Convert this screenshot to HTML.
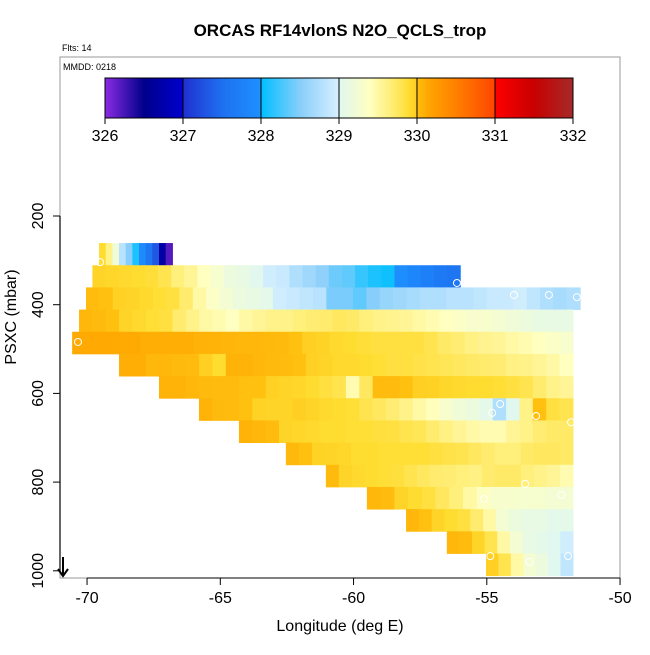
<!DOCTYPE html>
<html><head><meta charset="utf-8"><style>
html,body{margin:0;padding:0;background:#fff;}
svg text{font-family:"Liberation Sans",sans-serif;}
</style></head><body>
<svg id="chart" width="650" height="650" viewBox="0 0 650 650" xmlns="http://www.w3.org/2000/svg">
<rect x="0" y="0" width="650" height="650" fill="#fff"/>
<text x="340" y="36" text-anchor="middle" font-size="17" font-weight="bold">ORCAS RF14vlonS N2O_QCLS_trop</text>
<text x="62" y="51" font-size="9">Flts: 14</text>
<rect x="60" y="57" width="560" height="521" fill="none" stroke="#999" stroke-width="1"/>
<text x="63" y="70" font-size="9">MMDD: 0218</text>
<g id="cells"></g>
<g id="circles"></g>
<g id="cbar"></g>
<g id="axes"></g>
<text x="340" y="631" text-anchor="middle" font-size="16">Longitude (deg E)</text>
<text transform="translate(16,317) rotate(-90)" text-anchor="middle" font-size="16">PSXC (mbar)</text>
<g stroke="#000" stroke-width="2" fill="none">
<line x1="63" y1="557" x2="63" y2="576"/><polyline points="58,569 63,576 68,569"/>
</g>
</svg>
<script>
const rowPressures=[286,336,386,436,486,536,586,636,686,736,786,836,886,936,986];
const rowStarts=[-69.55,-69.8,-70.04,-70.3,-70.56,-68.8,-67.3,-65.8,-64.3,-62.54,-61.04,-59.5,-58.03,-56.5,-55.03];
const rowEnds=[-66.8,-56.0,-51.5,-51.77,-51.77,-51.77,-51.77,-51.77,-51.77,-51.77,-51.77,-51.77,-51.77,-51.77,-51.77];
const row1=[329.9,329.6,329.2,328.8,328.5,328.1,327.9,327.6,327.3,326.7,326.2];
const row2=[329.95,329.93,329.92,329.9,329.87,329.8,329.65,329.55,329.4,329.28,329.15,329.1,329.02,328.95,328.9,328.75,328.65,328.55,328.4,328.35,328.2,328.1,328.05,327.95,327.85,327.75,327.65,327.6];
const row3=[330.02,330.0,329.97,329.95,329.92,329.88,329.85,329.7,329.5,329.35,329.25,329.15,329.1,329.05,328.95,328.9,328.85,328.8,328.45,328.45,328.35,328.5,328.6,328.65,328.7,328.75,328.75,328.8,328.8,328.85,328.9,328.9,328.95,328.85,328.75,328.7,328.75];
const row4=[330.05,330.03,330.0,329.95,329.92,329.88,329.85,329.7,329.6,329.5,329.45,329.4,329.5,329.55,329.6,329.6,329.65,329.68,329.7,329.75,329.72,329.65,329.6,329.58,329.55,329.5,329.45,329.4,329.35,329.3,329.3,329.25,329.2,329.15,329.12,329.1,329.1];
const row5=[330.12,330.13,330.13,330.12,330.12,330.1,330.1,330.1,330.1,330.08,330.07,330.06,330.05,330.05,330.04,330.03,330.0,329.98,329.96,329.92,329.9,329.87,329.85,329.85,329.85,329.85,329.8,329.72,329.68,329.62,329.58,329.55,329.5,329.45,329.4,329.35,329.3];
const row6=[330.1,330.1,330.05,330.05,330.03,330.02,329.98,329.9,330.08,330.08,330.05,330.03,330.02,330.0,329.97,329.95,329.92,329.92,329.9,329.88,329.85,329.85,329.82,329.8,329.78,329.75,329.72,329.7,329.68,329.62,329.6,329.55,329.5,329.4];
const row7=[330.08,330.07,330.05,330.03,330.02,330.02,330.0,330.0,329.97,329.95,329.93,329.9,329.85,329.8,329.45,329.75,330.02,330.02,330.0,329.98,329.97,329.93,329.92,329.9,329.9,329.88,329.85,329.8,329.7,329.6,329.55];
const row8=[330.07,330.03,330.02,330.0,329.96,329.95,329.95,329.98,329.95,329.92,329.9,329.88,329.8,329.75,329.68,329.6,329.5,329.42,329.3,329.2,329.15,329.05,328.75,329.0,329.6,330.0,329.85,329.8];
const row9=[330.08,330.05,330.02,329.95,329.93,329.92,329.9,329.9,329.88,329.88,329.86,329.85,329.8,329.78,329.7,329.62,329.55,329.5,329.45,329.45,329.55,329.6,329.68,329.72,329.72];
const row10=[330.04,330.0,329.96,329.95,329.93,329.9,329.9,329.88,329.88,329.88,329.88,329.85,329.82,329.8,329.75,329.7,329.65,329.65,329.72,329.75,329.75,329.72];
const row11=[330.03,329.95,329.92,329.9,329.88,329.86,329.8,329.75,329.7,329.68,329.65,329.62,329.7,329.72,329.72,329.65,329.6,329.55,329.45];
const row12=[330.05,330.02,329.95,329.9,329.85,329.75,329.65,329.5,329.38,329.3,329.3,329.28,329.28,329.25,329.25];
const row13=[330.05,330.0,329.95,329.9,329.85,329.7,329.5,329.25,329.15,329.1,329.1,329.05,329.05];
const row14=[330.05,330.02,329.95,329.8,329.5,329.25,329.1,329.05,329.0,328.95];
const row15=[329.98,329.8,329.5,329.25,329.15,329.0,328.85];
const rowValues=[row1,row2,row3,row4,row5,row6,row7,row8,row9,row10,row11,row12,row13,row14,row15];
const markerLons=[-69.51,-56.12,-53.98,-52.67,-51.62,-70.34,-54.8,-54.5,-53.15,-51.84,-55.1,-53.56,-52.2,-54.87,-53.4,-51.95];
const markerPs=[304,351,378,378,383,484,644,624,651,665,838,804,829,967,980,967];
const xTicks=[-70,-65,-60,-55,-50];
const yTicks=[200,400,600,800,1000];
const cbTicks=[326,327,328,329,330,331,332];

const NS='http://www.w3.org/2000/svg';
function X(lon){return 60.4+(lon+71)*26.65;}
function Y(p){return 216+(p-200)*0.4435;}
function CBX(v){return 105+(v-326)*78;}
const segs=[
 [[326,'#8a2be2'],[326.5,'#00008b'],[327,'#0000cd']],
 [[327,'#2030d0'],[327.5,'#1e70f0'],[328,'#1e90ff']],
 [[328,'#00bfff'],[328.5,'#87cefa'],[329,'#d8f0ff']],
 [[329,'#e0f8f0'],[329.4,'#ffffc0'],[329.75,'#ffe860'],[329.9,'#ffdc30'],[330,'#ffcc20']],
 [[330,'#ffc010'],[330.15,'#ffa500'],[330.5,'#ff8000'],[331,'#ff4500']],
 [[331,'#ff0000'],[331.5,'#c80000'],[332,'#a52a2a']]];
function hex(c){return [1,3,5].map(i=>parseInt(c.substr(i,2),16));}
function cmap(v){
 v=Math.max(326,Math.min(331.999,v));
 const s=segs[Math.floor(v-326)];
 let k=0;while(k<s.length-2&&v>s[k+1][0])k++;
 const a=s[k],b=s[k+1];
 const t=(v-a[0])/(b[0]-a[0]);const ca=hex(a[1]),cb=hex(b[1]);
 return 'rgb('+ca.map((c,i)=>Math.round(c+(cb[i]-c)*t)).join(',')+')';
}
function el(tag,attrs,parent){const e=document.createElementNS(NS,tag);for(const k in attrs)e.setAttribute(k,attrs[k]);parent.appendChild(e);return e;}

const cells=document.getElementById('cells');
rowValues.forEach((vals,r)=>{
 const w=(rowEnds[r]-rowStarts[r])/vals.length;
 const y0=Y(rowPressures[r]-25),y1=Y(rowPressures[r]+25);
 vals.forEach((v,i)=>{
  const x0=X(rowStarts[r]+i*w),x1=X(rowStarts[r]+(i+1)*w);
  const c=el('rect',{x:x0,y:y0,width:x1-x0+0.6,height:y1-y0+0.4,fill:cmap(v)},cells);
  
  
 });
});
const circ=document.getElementById('circles');
markerLons.forEach((lon,i)=>{
 const c=el('circle',{cx:X(lon),cy:Y(markerPs[i]),r:3.5,fill:'none',stroke:'#fff','stroke-width':1},circ);
 
 
});
const cb=document.getElementById('cbar');
for(let i=0;i<468;i++){
 const v=326+(i+0.5)/78;
 el('rect',{x:105+i,y:78,width:1.2,height:40,fill:cmap(v)},cb);
}
el('rect',{x:105,y:78,width:468,height:40,fill:'none',stroke:'#000','stroke-width':1},cb);
cbTicks.forEach(v=>{
 const x=CBX(v);
 el('line',{x1:x,y1:78,x2:x,y2:124,stroke:'#000','stroke-width':1},cb);
 const t=el('text',{x:x,y:141,'text-anchor':'middle','font-size':16},cb);t.textContent=v;
 
 
});
const ax=document.getElementById('axes');
el('line',{x1:X(-70),y1:578,x2:X(-50),y2:578,stroke:'#000','stroke-width':1},ax);
xTicks.forEach(v=>{
 const x=X(v);
 el('line',{x1:x,y1:578,x2:x,y2:585,stroke:'#000'},ax);
 const t=el('text',{x:x,y:603,'text-anchor':'middle','font-size':16},ax);t.textContent=v;
 
 
});
el('line',{x1:60,y1:Y(200),x2:60,y2:Y(1000),stroke:'#333','stroke-width':1.5},ax);
yTicks.forEach(v=>{
 const y=Y(v);
 el('line',{x1:53,y1:y,x2:60,y2:y,stroke:'#000'},ax);
 const t=el('text',{transform:'translate(43,'+y+') rotate(-90)','text-anchor':'middle','font-size':16},ax);t.textContent=v;
 
 
});
</script>
</body></html>
